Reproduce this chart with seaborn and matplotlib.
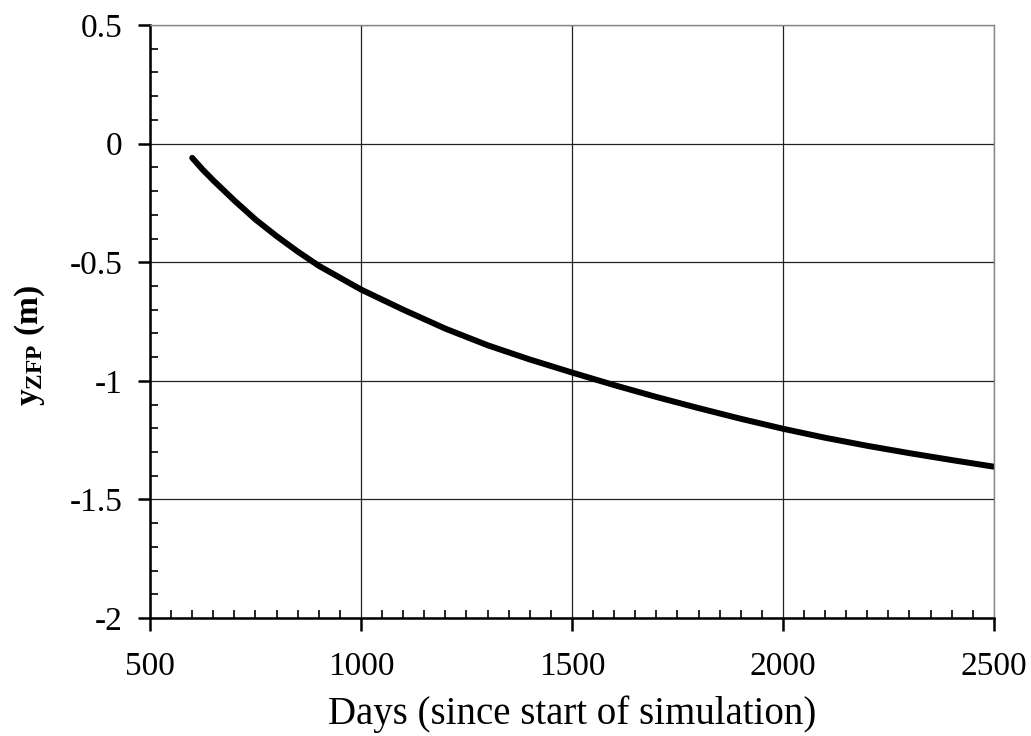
import pandas as pd
import numpy as np
import matplotlib
matplotlib.use('Agg')
import matplotlib.pyplot as plt
import seaborn as sns
from matplotlib.ticker import MultipleLocator, FuncFormatter

# values
days = [600, 625, 650, 700, 750, 800, 850, 900, 950, 1000, 1100, 1200, 1300,
        1400, 1500, 1600, 1700, 1800, 1900, 2000, 2100, 2200, 2300, 2400, 2500]
y_zfp = [-0.06, -0.11, -0.155, -0.24, -0.32, -0.39, -0.455, -0.515, -0.565,
         -0.615, -0.70, -0.78, -0.85, -0.91, -0.965, -1.018, -1.068, -1.115,
         -1.16, -1.202, -1.24, -1.274, -1.305, -1.334, -1.362]

df = pd.DataFrame({'Days': days, 'y': y_zfp})

sns.set_style('white')
plt.rcParams['font.family'] = ['Liberation Serif', 'DejaVu Serif']
plt.rcParams['mathtext.fontset'] = 'custom'
plt.rcParams['mathtext.rm'] = 'Liberation Serif'
plt.rcParams['mathtext.bf'] = 'Liberation Serif:bold'
plt.rcParams['text.color'] = 'black'
plt.rcParams['axes.labelcolor'] = 'black'

fig = plt.figure(figsize=(10.31, 7.36), dpi=100)
ax = fig.add_axes([0.1455, 0.1603, 0.8185, 0.8057])

sns.lineplot(data=df, x='Days', y='y', ax=ax, color='black', linewidth=4.3,
             solid_capstyle='round')

ax.set_xlim(500, 2500)
ax.set_ylim(-2, 0.5)
ax.xaxis.set_major_locator(MultipleLocator(500))
ax.xaxis.set_minor_locator(MultipleLocator(50))
ax.yaxis.set_major_locator(MultipleLocator(0.5))
ax.yaxis.set_minor_locator(MultipleLocator(0.1))
ax.yaxis.set_major_formatter(FuncFormatter(lambda v, p: f'{v:g}'))

ax.grid(True, which='major', color='#222222', linewidth=0.9)
ax.tick_params(which='major', direction='out', length=9, width=1.8, labelsize=24,
               colors='black')
ax.tick_params(axis='x', which='major', pad=15)
ax.tick_params(axis='y', which='major', pad=11)
ax.tick_params(which='minor', direction='in', length=6, width=1.2, colors='black')
ax.tick_params(axis='x', which='both', bottom=True, top=False)
ax.tick_params(axis='y', which='both', left=True, right=False)

for side in ['left', 'bottom']:
    ax.spines[side].set_color('black')
    ax.spines[side].set_linewidth(1.8)
for side in ['top', 'right']:
    ax.spines[side].set_color('#888888')
    ax.spines[side].set_linewidth(1.0)

ax.set_xlabel('Days (since start of simulation)', fontsize=28, labelpad=10)
ax.set_ylabel(r'$\mathbf{y_{ZFP}}$ (m)', fontsize=24, fontweight='bold')
ax.yaxis.set_label_coords(-0.122, 0.46)

fig.savefig('out.png', dpi=100)
